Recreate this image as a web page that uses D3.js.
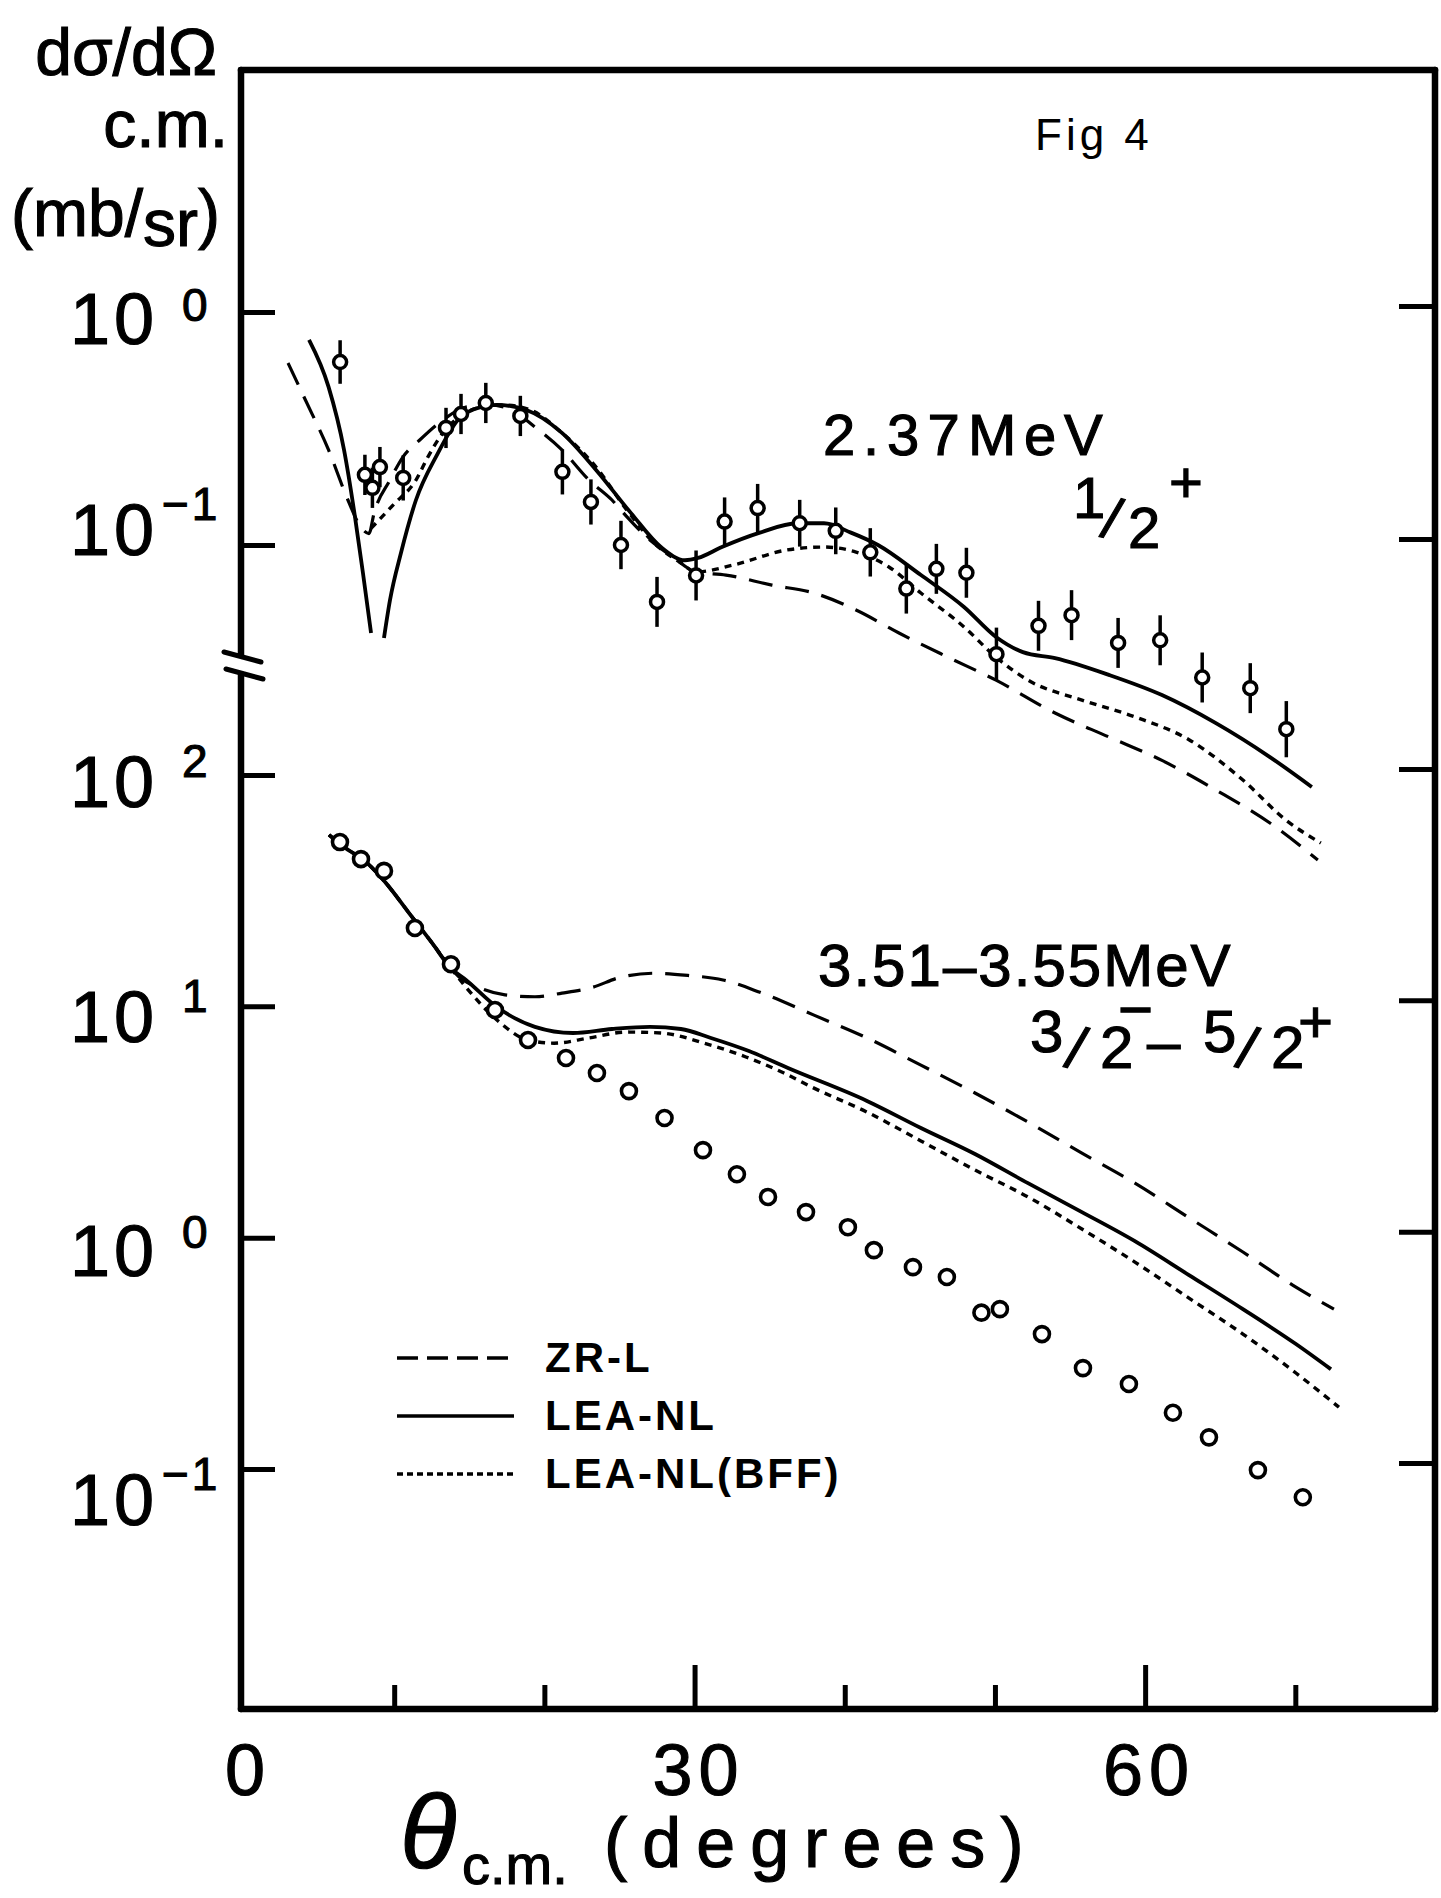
<!DOCTYPE html>
<html>
<head>
<meta charset="utf-8">
<script src="https://cdn.jsdelivr.net/npm/d3@7"></script>
<style>
  body { margin: 0; background: #fff; }
  text { font-family: 'Liberation Sans', Arial, sans-serif; fill: #000; }
  text.ink { stroke: #000; stroke-width: 1.1; }
</style>
</head>
<body>
<svg id="chart" width="1441" height="1898"></svg>
<script>
// ---- upper panel: 2.37 MeV 1/2+ (measured points with error bars) ----
const upAngle = [6.4, 8.05, 8.55, 9.05, 10.6, 13.45, 14.45, 16.1, 18.4, 21.2, 23.1, 25.1, 27.5, 30.1, 32.0,
                 34.2, 37.0, 39.4, 41.7, 44.1, 46.1, 48.1, 50.1, 52.9, 55.1, 58.2, 61.0, 63.8, 67.0, 69.4];
const upSigma = [0.61, 0.20, 0.176, 0.216, 0.194, 0.318, 0.365, 0.407, 0.358, 0.206, 0.153, 0.100, 0.057, 0.074, 0.126,
                 0.144, 0.124, 0.115, 0.093, 0.065, 0.079, 0.076, 0.034, 0.045, 0.050, 0.038, 0.039, 0.027, 0.0243, 0.0162];
// multiplicative error (value*f, value/f)
const upErr = [1.24, 1.22, 1.22, 1.22, 1.25, 1.22, 1.22, 1.22, 1.22, 1.25, 1.25, 1.27, 1.28, 1.28, 1.27,
               1.27, 1.26, 1.26, 1.27, 1.28, 1.28, 1.28, 1.30, 1.28, 1.28, 1.28, 1.28, 1.28, 1.28, 1.32];

// upper panel curves
const upZrAngle = [2.93, 4.09, 5.63, 6.92, 7.79, 8.32, 8.66, 9.72, 10.59, 11.72, 13.25, 14.78, 16.31, 17.84, 19.37,
                   21.17, 22.97, 24.5, 25.5, 27.03, 28.56, 30.09, 32.09, 35.15, 37.95, 40.75, 43.61, 46.87, 50.07,
                   54.0, 57.59, 61.12, 64.71, 68.31, 71.5];
const upZrSigma = [0.604, 0.419, 0.256, 0.156, 0.119, 0.112, 0.137, 0.190, 0.239, 0.283, 0.344, 0.391, 0.399, 0.379, 0.321,
                   0.256, 0.190, 0.156, 0.132, 0.105, 0.0888, 0.0766, 0.0743, 0.0673, 0.0622, 0.0526, 0.0419, 0.0330, 0.0263,
                   0.0190, 0.0150, 0.0119, 0.00888, 0.00641, 0.00445];

const upLeaAngle = [4.33, 5.63, 6.66, 7.39, 7.92, 8.46, 8.9, 9.32, 9.72, 10.45, 11.45, 12.78, 14.78, 16.84, 18.84,
                    21.17, 23.44, 25.77, 27.76, 29.36, 30.23, 31.82, 34.35, 36.82, 38.62, 40.41, 42.21, 45.07, 47.94,
                    50.07, 51.86, 54.0, 57.59, 61.12, 64.71, 68.31, 71.1];
const upLeaSigma = [0.759, 0.477, 0.256, 0.132, 0.0758, 0.0419, null, 0.0399, 0.058, 0.0924, 0.156, 0.239, 0.369, 0.399, 0.379,
                    0.303, 0.210, 0.137, 0.098, 0.086, 0.088, 0.098, 0.113, 0.124, 0.124, 0.113, 0.100, 0.0743, 0.0542,
                    0.0403, 0.0347, 0.0327, 0.0277, 0.0227, 0.0172, 0.0123, 0.00915];

const upBffAngle = [8.46, 9.99, 11.45, 12.25, 13.25, 14.31, 15.85, 17.31, 19.11, 21.17, 23.44, 25.5, 27.3, 29.1, 30.09,
                    32.56, 36.15, 38.62, 40.75, 42.94, 45.07, 47.94, 50.07, 52.2, 55.79, 59.32, 62.92, 66.51, 69.37, 71.7];
const upBffSigma = [0.118, 0.150, 0.190, 0.239, 0.303, 0.354, 0.391, 0.399, 0.379, 0.303, 0.216, 0.141, 0.102, 0.0837, 0.0766,
                    0.082, 0.0952, 0.098, 0.0933, 0.0805, 0.0622, 0.0445, 0.0330, 0.0263, 0.0216, 0.0183, 0.0146, 0.0098, 0.0066, 0.00526];

// ---- lower panel: 3.51-3.55 MeV 3/2- - 5/2+ ----
const lowAngle = [6.39, 7.79, 9.32, 11.38, 13.78, 16.71, 18.91, 21.44, 23.5, 25.63, 28.0, 30.56, 32.82, 34.89,
                  37.42, 40.21, 41.94, 44.54, 46.8, 49.1, 50.33, 53.13, 55.86, 58.92, 61.85, 64.25, 67.51, 70.5];
const lowSigma = [51.3, 43.3, 38.5, 21.8, 15.2, 9.64, 7.15, 5.98, 5.15, 4.30, 3.29, 2.39, 1.88, 1.50,
                  1.29, 1.11, 0.883, 0.746, 0.676, 0.474, 0.491, 0.383, 0.273, 0.233, 0.175, 0.137, 0.0989, 0.0755];

const lowZrAngle = [5.66, 6.66, 8.19, 9.45, 10.99, 12.52, 13.78, 14.31, 15.58, 17.38, 19.37, 21.17, 23.24, 24.97, 27.3,
                    29.56, 31.89, 34.35, 37.95, 41.48, 45.07, 48.67, 52.2, 55.79, 59.32, 62.92, 66.51, 70.04, 72.57];
const lowZrSigma = [55.1, 48.8, 41.7, 34.1, 25.3, 18.8, 14.6, 13.4, 12.1, 11.2, 11.0, 11.4, 12.1, 13.3, 13.9,
                    13.6, 13.0, 11.5, 9.16, 7.30, 5.57, 4.22, 3.16, 2.32, 1.72, 1.22, 0.867, 0.611, 0.491];

const lowLeaAngle = [5.66, 6.66, 8.19, 9.45, 10.99, 12.52, 13.78, 14.78, 16.84, 19.37, 21.9, 24.5, 27.03, 29.09, 31.09,
                     33.62, 36.22, 41.48, 45.07, 48.67, 52.2, 55.79, 59.32, 62.92, 66.51, 70.04, 72.37];
const lowLeaSigma = [55.1, 48.8, 41.7, 34.1, 25.3, 18.8, 14.6, 13.0, 9.93, 8.15, 7.67, 7.98, 8.15, 7.98, 7.30,
                     6.41, 5.41, 3.90, 2.98, 2.30, 1.72, 1.29, 0.966, 0.689, 0.491, 0.347, 0.270];

const lowBffAngle = [5.66, 6.66, 8.19, 9.45, 10.99, 12.52, 13.78, 14.78, 16.84, 18.91, 20.64, 22.97, 25.5, 27.76, 30.63,
                     33.42, 35.95, 37.95, 41.48, 45.07, 48.67, 52.2, 55.79, 59.32, 62.92, 66.51, 70.04, 72.9];
const lowBffSigma = [55.1, 48.8, 41.7, 34.1, 25.3, 18.8, 14.6, 12.1, 8.73, 7.15, 6.93, 7.30, 7.74, 7.67, 6.93,
                     6.04, 5.15, 4.43, 3.49, 2.62, 1.96, 1.50, 1.09, 0.784, 0.548, 0.383, 0.260, 0.185];

// ticks and labels
const xTicks = [10, 20, 30, 40, 50, 60, 70];
const xLabels = [0, 30, 60];
const upTicks = [1, 0.1];
const upTickExp = ['0', '\u22121'];
const lowTicks = [100, 10, 1, 0.1];
const lowTickExp = ['2', '1', '0', '\u22121'];
const legendNames = ['ZR-L', 'LEA-NL', 'LEA-NL(BFF)'];
const upState = '2.37MeV1/2+';
const lowState = '3.51\u20133.55MeV3/2\u2212\u20135/2+';

// ---------- scales ----------
const svg = d3.select('#chart');
svg.append('rect').attr('width', 1441).attr('height', 1898).attr('fill', '#fff');

const x = d3.scaleLinear().domain([0, 79.3]).range([244, 1435]);
const yUp = d3.scaleLog().domain([0.1, 1]).range([545, 312]);
const yLow = d3.scaleLog().domain([0.1, 100]).range([1469, 775]);
const fTop = 70, fBottom = 1709, fLeft = x(0) - 3, fRight = x(79.3);

const dashZR = '24,13', dashBFF = '7,6';

// ---------- frame ----------
const frame = svg.append('g').attr('stroke', '#000').attr('stroke-width', 6.5).attr('stroke-linecap', 'round');
frame.append('line').attr('x1', fLeft).attr('x2', fRight).attr('y1', fTop).attr('y2', fTop);
frame.append('line').attr('x1', fRight).attr('x2', fRight).attr('y1', fTop).attr('y2', fBottom);
frame.append('line').attr('x1', fLeft).attr('x2', fRight).attr('y1', fBottom).attr('y2', fBottom);
frame.append('line').attr('x1', fLeft).attr('x2', fLeft).attr('y1', fTop).attr('y2', 655);
frame.append('line').attr('x1', fLeft).attr('x2', fLeft).attr('y1', 675).attr('y2', fBottom);
// axis break
frame.append('line').attr('x1', 224).attr('y1', 652).attr('x2', 261).attr('y2', 662).attr('stroke-width', 5);
frame.append('line').attr('x1', 226).attr('y1', 669).attr('x2', 263).attr('y2', 679).attr('stroke-width', 5);

function styleAxis(g) {
  g.select('.domain').remove();
  g.selectAll('.tick line').attr('stroke', '#000').attr('stroke-width', 5);
  g.selectAll('.tick text').remove();
}

// y ticks, left (pointing inward) and right (pointing inward)
svg.append('g').attr('transform', `translate(${fLeft},0)`)
  .call(d3.axisRight(yUp).tickValues(upTicks).tickSize(34)).call(styleAxis);
svg.append('g').attr('transform', `translate(${fLeft},0)`)
  .call(d3.axisRight(yLow).tickValues(lowTicks).tickSize(34)).call(styleAxis);
svg.append('g').attr('transform', `translate(${fRight},-6)`)
  .call(d3.axisLeft(yUp).tickValues(upTicks).tickSize(36)).call(styleAxis);
svg.append('g').attr('transform', `translate(${fRight},-6)`)
  .call(d3.axisLeft(yLow).tickValues(lowTicks).tickSize(36)).call(styleAxis);

// x ticks (upward from bottom)
svg.append('g').attr('transform', `translate(0,${fBottom})`)
  .call(d3.axisTop(x).tickValues(xTicks).tickSize(24)).call(styleAxis)
  .selectAll('.tick line').attr('y2', d => (d % 30 === 0 ? -44 : -24));

// ---------- tick labels ----------
function powLabel(yPos, exp, mainDy, supDy) {
  svg.append('text').attr('class', 'ink').attr('x', 158).attr('y', yPos + mainDy)
    .attr('text-anchor', 'end').attr('font-size', 72).attr('letter-spacing', 4).text('10');
  const neg = exp.startsWith('\u2212');
  svg.append('text').attr('class', 'ink').attr('x', neg ? 162 : 182).attr('y', yPos + supDy)
    .attr('font-size', 46).attr('letter-spacing', neg ? 3 : 0).text(exp);
}
const upLay = [[32, 9], [10, -25]];
upTicks.forEach((v, i) => powLabel(yUp(v), upTickExp[i], upLay[i][0], upLay[i][1]));
const lowLay = [[32, 2], [36, 6], [38, 10], [56, 21]];
lowTicks.forEach((v, i) => powLabel(yLow(v), lowTickExp[i], lowLay[i][0], lowLay[i][1]));

svg.selectAll('.xlab').data(xLabels).join('text').attr('class', 'xlab ink')
  .attr('x', d => x(d) + 4).attr('y', 1795).attr('text-anchor', 'middle')
  .attr('font-size', 72).attr('letter-spacing', 6).text(d => d);

// axis titles
svg.append('text').attr('class', 'ink').attr('x', 217).attr('y', 75).attr('text-anchor', 'end')
  .attr('font-size', 66).text('d\u03c3/d\u03a9');
svg.append('text').attr('class', 'ink').attr('x', 228).attr('y', 147).attr('text-anchor', 'end')
  .attr('font-size', 66).text('c.m.');
const mb = svg.append('text').attr('class', 'ink').attr('x', 220).attr('y', 236).attr('text-anchor', 'end').attr('font-size', 66);
mb.append('tspan').text('(mb/');
mb.append('tspan').attr('dy', 10).text('sr');
mb.append('tspan').attr('dy', -10).text(')');

const xt = svg.append('g');
xt.append('text').attr('class', 'ink').attr('x', 400).attr('y', 1867).attr('font-size', 104)
  .attr('font-style', 'italic').text('\u03b8');
xt.append('text').attr('class', 'ink').attr('x', 462).attr('y', 1884).attr('font-size', 56).text('c.m.');
xt.append('text').attr('class', 'ink').attr('x', 604).attr('y', 1867).attr('font-size', 70)
  .attr('letter-spacing', 15).text('(degrees)');

// handwritten figure note
svg.append('text').attr('x', 1035).attr('y', 150).attr('font-size', 44)
  .attr('font-family', "'DejaVu Sans', sans-serif").attr('letter-spacing', 4).attr('fill', '#222').text('Fig 4');

// state labels: one text run each, glyphs placed individually (fractions, superscripts)
function placedText(str, xs, ys, rots, size) {
  svg.append('text').attr('class', 'ink').attr('x', xs.join(' ')).attr('y', ys.join(' '))
    .attr('rotate', rots.join(' ')).attr('font-size', size).text(str);
}
placedText(upState,
  [823, 863, 887, 927.5, 968, 1024, 1064, 1073, 1099, 1128, 1169],
  [455, 455, 455, 455, 455, 455, 455, 518, 536, 548, 502],
  [0, 0, 0, 0, 0, 0, 0, 0, 15, 0, 0], 58);
placedText(lowState,
  [818, 853.4, 872.1, 907.5, 942.9, 978.3, 1013.7, 1032.4, 1067.8, 1103.2, 1155.2, 1190.6,
   1030, 1063, 1100, 1118, 1147, 1203, 1234, 1271, 1298],
  [986, 986, 986, 986, 986, 986, 986, 986, 986, 986, 986, 986,
   1052, 1066, 1068, 1030, 1062, 1052, 1066, 1068, 1042],
  [0, 0, 0, 0, 0, 0, 0, 0, 0, 0, 0, 0, 0, 15, 0, 0, 0, 0, 15, 0, 0], 60);

// ---------- curves ----------
const zip = (a, b) => a.map((v, i) => [v, b[i]]);
const lineUp = d3.line().defined(d => d[1] != null).x(d => x(d[0])).y(d => yUp(d[1])).curve(d3.curveMonotoneX);
const lineLow = d3.line().defined(d => d[1] != null).x(d => x(d[0])).y(d => yLow(d[1])).curve(d3.curveMonotoneX);

const curves = [
  {gen: lineUp, data: zip(upZrAngle, upZrSigma), dash: dashZR, w: 3.2},
  {gen: lineUp, data: zip(upLeaAngle, upLeaSigma), dash: null, w: 3.8},
  {gen: lineUp, data: zip(upBffAngle, upBffSigma), dash: dashBFF, w: 3.4},
  {gen: lineLow, data: zip(lowZrAngle, lowZrSigma), dash: dashZR, w: 3.2},
  {gen: lineLow, data: zip(lowLeaAngle, lowLeaSigma), dash: null, w: 3.8},
  {gen: lineLow, data: zip(lowBffAngle, lowBffSigma), dash: dashBFF, w: 3.4}
];
svg.append('g').selectAll('path').data(curves).join('path')
  .attr('d', c => c.gen(c.data)).attr('fill', 'none').attr('stroke', '#000')
  .attr('stroke-width', c => c.w).attr('stroke-dasharray', c => c.dash);

// ---------- data points ----------
const upPts = upAngle.map((a, i) => ({a, v: upSigma[i], f: upErr[i]}));
const ptsG = svg.append('g').attr('stroke', '#000');
ptsG.selectAll('line.err').data(upPts).join('line').attr('class', 'err')
  .attr('x1', d => x(d.a)).attr('x2', d => x(d.a))
  .attr('y1', d => yUp(d.v * d.f)).attr('y2', d => yUp(d.v / d.f)).attr('stroke-width', 3.5);
ptsG.selectAll('circle.up').data(upPts).join('circle').attr('class', 'up')
  .attr('cx', d => x(d.a)).attr('cy', d => yUp(d.v)).attr('r', 6.5)
  .attr('fill', '#fff').attr('stroke-width', 3.5);
ptsG.selectAll('circle.low').data(zip(lowAngle, lowSigma)).join('circle').attr('class', 'low')
  .attr('cx', d => x(d[0])).attr('cy', d => yLow(d[1])).attr('r', 7.5)
  .attr('fill', '#fff').attr('stroke-width', 3.6);

// ---------- legend ----------
const legY = [1358, 1416, 1474];
const legDash = [ '21,9', null, '6,4' ];
const leg = svg.append('g');
legendNames.forEach((name, i) => {
  leg.append('line').attr('x1', 397).attr('x2', 514).attr('y1', legY[i]).attr('y2', legY[i])
    .attr('stroke', '#000').attr('stroke-width', 3.5).attr('stroke-dasharray', legDash[i]);
  leg.append('text').attr('x', 545).attr('y', legY[i] + 14).attr('font-size', 42)
    .attr('font-weight', 'bold').attr('letter-spacing', 3).text(name);
});
</script>
</body>
</html>
